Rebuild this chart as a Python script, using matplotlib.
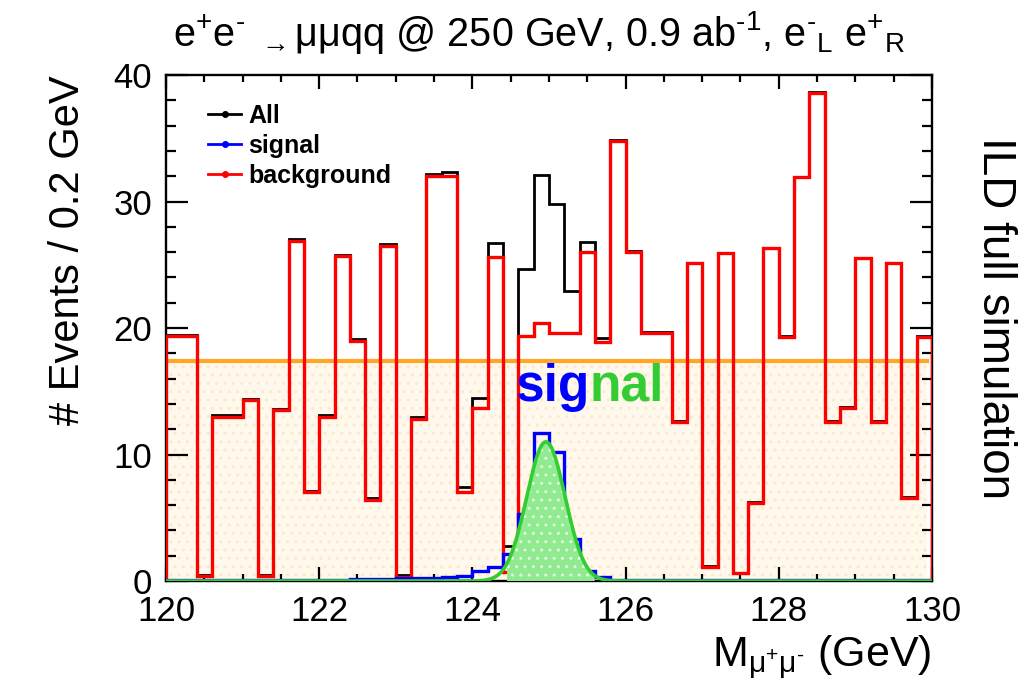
import numpy as np
import matplotlib
matplotlib.use('Agg')
import matplotlib.pyplot as plt
from matplotlib.lines import Line2D

plt.rcParams['font.family'] = ['Liberation Sans', 'DejaVu Sans']
plt.rcParams['mathtext.fontset'] = 'custom'
plt.rcParams['mathtext.rm'] = 'Liberation Sans'
plt.rcParams['mathtext.it'] = 'Liberation Sans:italic'
plt.rcParams['mathtext.bf'] = 'Liberation Sans:bold'
plt.rcParams['mathtext.default'] = 'regular'
plt.rcParams['hatch.linewidth'] = 1.0

# Binning: 50 bins of 0.2 GeV from 120 to 130
x_min, x_max, bin_width = 120.0, 130.0, 0.2

# Background counts per bin
background = [19.4, 19.4, 0.4, 13.0, 13.0, 14.3, 0.4, 13.5, 26.9, 7.0,
              13.0, 25.7, 19.0, 6.4, 26.5, 0.3, 12.8, 32.0, 32.0, 7.0,
              13.7, 25.6, 0.7, 19.4, 20.4, 19.6, 19.6, 26.0, 18.9, 34.8,
              26.0, 19.6, 19.6, 12.6, 25.1, 1.1, 25.9, 0.6, 6.2, 26.3,
              19.3, 31.9, 38.6, 12.6, 13.7, 25.5, 12.6, 25.1, 6.6, 19.3]

# Signal counts per bin
signal = [0.05, 0.05, 0.05, 0.1, 0.1, 0.1, 0.1, 0.1, 0.1, 0.1,
          0.1, 0.1, 0.15, 0.15, 0.15, 0.2, 0.2, 0.2, 0.3, 0.4,
          0.8, 1.1, 2.1, 5.3, 11.7, 10.2, 3.3, 0.8, 0.3, 0.1,
          0.05, 0.05, 0.05, 0.05, 0.05, 0.05, 0.05, 0.05, 0.05, 0.05,
          0.05, 0.05, 0.05, 0.05, 0.05, 0.05, 0.05, 0.05, 0.05, 0.05]

# Flat background level and gaussian fit to the signal
bkg_level = 17.4
fit_amp, fit_mean, fit_sigma = 11.0, 124.96, 0.25
fit_fill_range = (124.45, 125.6)

edges = np.linspace(x_min, x_max, len(background) + 1)
bkg = np.array(background)
sig = np.array(signal)
all_counts = bkg + sig

fig = plt.figure(figsize=(10.33, 6.83), dpi=100)
ax = fig.add_axes([0.1607, 0.1493, 0.7415, 0.7409])

# flat background level with dotted cream fill
ax.fill_between([x_min, x_max - 0.07], 0, bkg_level, facecolor='#fff8ec',
                hatch='..', edgecolor='#fde9c8', linewidth=0, zorder=1)
ax.plot([x_min, x_max - 0.07], [bkg_level, bkg_level], color='#ffa722', lw=3, zorder=2)

# histograms
ax.stairs(all_counts, edges, color='black', lw=2, zorder=3)
ax.stairs(bkg, edges, color='#ff0000', lw=2.4, zorder=4)
ax.stairs(sig, edges, color='#0000ff', lw=2.4, zorder=5)

# gaussian fit
xf = np.linspace(x_min, x_max, 2000)
yf = fit_amp * np.exp(-0.5 * ((xf - fit_mean) / fit_sigma) ** 2)
mask = (xf >= fit_fill_range[0]) & (xf <= fit_fill_range[1])
ax.fill_between(xf[mask], 0, yf[mask], facecolor='#90ea90', hatch='..',
                edgecolor='#e0f8e0', linewidth=0, zorder=5.5)
ax.plot(xf, yf, color='#33cc33', lw=2.6, zorder=6)

# "signal" label
t1 = ax.text(124.56, 14.25, 'sig', color='#0000ff', fontsize=37,
             fontweight='bold', va='baseline', ha='left', zorder=7)
ax.annotate('nal', xy=(1, 0), xycoords=t1, color='#33cc33', fontsize=37,
            fontweight='bold', va='bottom', ha='left', zorder=7)

ax.set_xlim(x_min, x_max)
ax.set_ylim(0, 40)
ax.set_xticks([120, 122, 124, 126, 128, 130])
ax.set_xticks(np.arange(120, 130.01, 0.5), minor=True)
ax.set_yticks([0, 10, 20, 30, 40])
ax.set_yticks(np.arange(0, 40.01, 2), minor=True)
ax.tick_params(axis='both', which='both', direction='in', top=True, right=True,
               width=1.6, labelsize=25)
ax.tick_params(axis='x', which='major', length=10, pad=10)
ax.tick_params(axis='x', which='minor', length=5)
ax.tick_params(axis='y', which='major', length=16, pad=10)
ax.tick_params(axis='y', which='minor', length=7.5)
for s in ax.spines.values():
    s.set_linewidth(1.7)

ax.set_xlabel('M$_{\\mu^{+}\\mu^{\u2010}}$ (GeV)', fontsize=31, loc='right', labelpad=4)
ax.set_ylabel('# Events / 0.2 GeV', fontsize=30, loc='top', labelpad=18)

fig.text(0.522, 0.953,
         'e$^{+}$e$^{\u2010}$ $_{\\rightarrow}$μμqq @ 250 GeV, 0.9 ab$^{\u20101}$, '
         'e$^{\u2010}{}_{L}$ e$^{+}{}_{R}$',
         fontsize=28.5, ha='center', va='center')
fig.text(0.963, 0.534, 'ILD full simulation', rotation=-90, fontsize=33,
         ha='center', va='center')

handles = [Line2D([], [], color='black', lw=2, marker='o', ms=4),
           Line2D([], [], color='#0000ff', lw=2, marker='o', ms=4),
           Line2D([], [], color='#ff0000', lw=2, marker='o', ms=4)]
ax.legend(handles, ['All', 'signal', 'background'], loc='upper left',
          bbox_to_anchor=(0.026, 0.988), frameon=False, handlelength=1.3,
          handletextpad=0.3, labelspacing=0.25, prop={'weight': 'bold', 'size': 18})

fig.savefig('out.png', dpi=100)
